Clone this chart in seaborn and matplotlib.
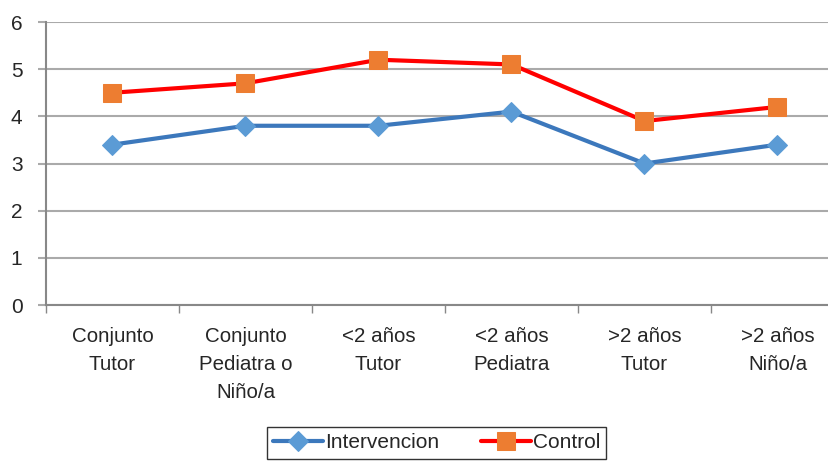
import numpy as np
import pandas as pd
import matplotlib
matplotlib.use("Agg")
import matplotlib.pyplot as plt
import seaborn as sns
from matplotlib.ticker import FixedLocator

categories = ["Conjunto\nTutor", "Conjunto\nPediatra o\nNiño/a", "<2 años\nTutor",
              "<2 años\nPediatra", ">2 años\nTutor", ">2 años\nNiño/a"]
intervencion = [3.4, 3.8, 3.8, 4.1, 3.0, 3.4]
control = [4.5, 4.7, 5.2, 5.1, 3.9, 4.2]
y_ticks = [0, 1, 2, 3, 4, 5, 6]

sns.set_style("white")
plt.rcParams['font.family'] = ['Liberation Sans', 'DejaVu Sans']

pos = np.arange(len(categories))
df_int = pd.DataFrame({'x': pos, 'y': intervencion})
df_ctl = pd.DataFrame({'x': pos, 'y': control})

fig = plt.figure(figsize=(8.29, 4.61), dpi=100)
ax = fig.add_axes([46 / 829, 156 / 461, 798 / 829, 283 / 461])

sns.lineplot(data=df_int, x='x', y='y', ax=ax, color='#3C78BC', linewidth=3,
             marker='D', markersize=10, markerfacecolor='#5B9BD5',
             markeredgecolor='#5B9BD5', label='Intervencion', sort=False)
sns.lineplot(data=df_ctl, x='x', y='y', ax=ax, color='#FF0000', linewidth=3,
             marker='s', markersize=12.5, markerfacecolor='#ED7D31',
             markeredgecolor='#ED7D31', label='Control', sort=False)

ax.set_xlim(-0.5, len(categories) - 0.5)
ax.set_ylim(0, 6)
ax.set_yticks(y_ticks)
ax.set_yticklabels([str(t) for t in y_ticks], fontsize=15)
ax.yaxis.grid(True, color='#AAAAAA', linewidth=1.5)
ax.set_axisbelow(True)

ax.set_xticks(pos)
ax.set_xticklabels(categories, fontsize=14.8, linespacing=1.6)
ax.xaxis.set_minor_locator(FixedLocator(np.arange(-0.5, len(categories), 1.0)))
ax.tick_params(axis='x', which='major', length=0, pad=16)
ax.tick_params(axis='x', which='minor', length=6, width=1, color='#888888', direction='out', bottom=True)
ax.tick_params(axis='y', length=6, width=1.5, color='#AAAAAA', direction='out', left=True, pad=11)
ax.set_xlabel('')
ax.set_ylabel('')

for s in ['top', 'right']:
    ax.spines[s].set_visible(False)
for s in ['left', 'bottom']:
    ax.spines[s].set_color('#888888')
    ax.spines[s].set_linewidth(1.5)

leg = ax.legend(loc='upper center', bbox_to_anchor=(436.5 / 829, 34 / 461),
                bbox_transform=fig.transFigure, ncol=2, fontsize=15,
                frameon=True, fancybox=False, handlelength=2.4,
                handletextpad=0.1, columnspacing=2.0, borderpad=0.3,
                borderaxespad=0)
leg.get_frame().set_edgecolor('black')
leg.get_frame().set_linewidth(1)

fig.savefig('out.png', dpi=100)
